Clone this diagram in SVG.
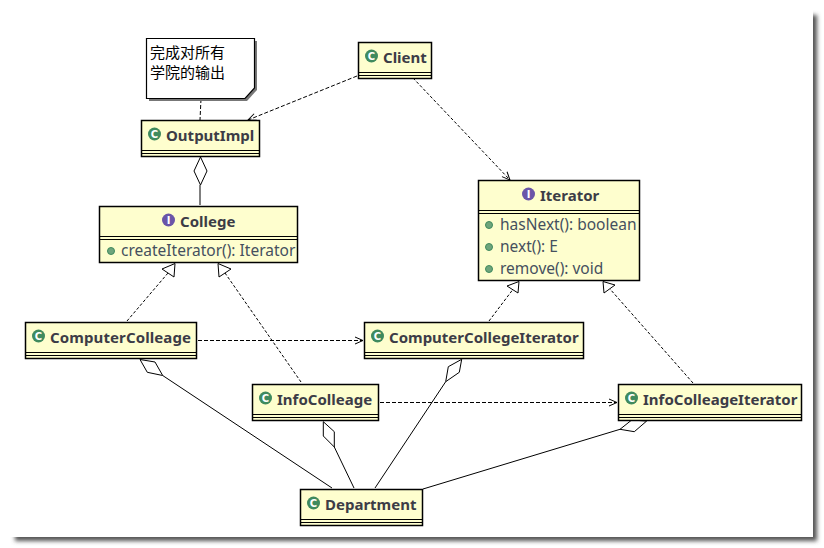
<svg xmlns="http://www.w3.org/2000/svg" width="824" height="548" viewBox="0 0 824 548">
<style>
.box{fill:#fefece;stroke:#000;stroke-width:1.5}
.sep{stroke:#000;stroke-width:1.2;fill:none}
.t{font:bold 15px "Noto Sans","Open Sans",sans-serif;fill:#3c3c46}
.m{font:15.500px "Noto Sans","Open Sans",sans-serif;fill:#45505e}
.n{font:15px "Noto Sans CJK SC",sans-serif;fill:#000}
.ic{font:bold 10px "DejaVu Sans",sans-serif;fill:#fff;text-anchor:middle}
.cg{fill:#3f8a5e}
.ci{fill:#6a55a8}
.dot{fill:#6ea57c;stroke:#3f8a5e}
.l{fill:none;stroke:#000;stroke-width:1}
.d{stroke-dasharray:4 2}
.o{stroke-dasharray:3 2}
.h{fill:#fff;stroke:#000;stroke-width:1;stroke-linejoin:miter}
</style>
<defs>
<filter id="sh" x="-3%" y="-3%" width="106%" height="106%"><feGaussianBlur stdDeviation="2"/></filter>
<marker id="op" markerWidth="12" markerHeight="12" refX="10" refY="5" orient="auto" markerUnits="userSpaceOnUse"><path d="M2 1.500 L10 5 L2 8.500" fill="none" stroke="#000"/></marker>
</defs>
<rect width="824" height="548" fill="#fff"/>
<rect x="15" y="15" width="802" height="526" fill="#555" filter="url(#sh)"/>
<rect x="10" y="10" width="803" height="527" fill="#fff"/>

<g id="connectors">
<path class="l d" d="M201 99 L200 120"/>
<path class="l d" d="M357 76 L248 120" marker-end="url(#op)"/>
<path class="l o" d="M413 78 L510 180" marker-end="url(#op)"/>
<path class="h" d="M200.500 157 L207 171 L200.500 185 L194 171Z"/>
<path class="l" d="M200 185 L200 205"/>
<path class="l o" d="M127 321 L168 273"/>
<path class="h" d="M175 263.500 L174 277 L162 269Z"/>
<path class="l o" d="M301 382 L225 273"/>
<path class="h" d="M218 263.500 L231 269 L219 277Z"/>
<path class="l o" d="M489 321 L512.500 290"/>
<path class="h" d="M519 281.500 L518 293 L507 286Z"/>
<path class="l o" d="M693 383 L610 289"/>
<path class="h" d="M603 281.500 L615 285 L604 293Z"/>
<path class="l d" d="M198 340.500 L363 340.500" marker-end="url(#op)"/>
<path class="l d" d="M380 402.500 L617 402.500" marker-end="url(#op)"/>
<path class="h" d="M140 359.500 L155 362 L162.700 375.500 L147.300 372.300Z"/>
<path class="l" d="M162.700 375.500 L332 488"/>
<path class="h" d="M323.300 421.700 L334.300 431.700 L334.300 447 L323.300 436Z"/>
<path class="l" d="M334.300 447 L354 488"/>
<path class="h" d="M461.700 359.300 L459.300 372.300 L445.700 381.700 L448.300 366.700Z"/>
<path class="l" d="M445.700 381.700 L375 488"/>
<path class="h" d="M646.700 421 L634.300 431.700 L620 429.300 L631.700 420Z"/>
<path class="l" d="M620 429.300 L423 489"/>
</g>

<g id="note">
<path d="M149 41 H257 V90 L247 101 H149Z" fill="#777"/>
<path d="M146.500 38.500 H254.500 V88 L245 98.500 H146.500Z" fill="#fff" stroke="#000" stroke-width="1.2"/>
<text class="n" x="150" y="58">完成对所有</text>
<text class="n" x="150" y="78">学院的输出</text>
</g>
<g id="Client">
<rect class="box" x="358.500" y="42.500" width="73" height="36"/>
<path class="sep" d="M358.500 72.500H431.500M358.500 75.500H431.500"/>
<circle class="cg" cx="371.500" cy="56" r="6.500"/><text class="ic" x="371.500" y="59.500">C</text>
<text class="t" x="383" y="62.500">Client</text>
</g>
<g id="OutputImpl">
<rect class="box" x="141.500" y="120.500" width="118" height="36"/>
<path class="sep" d="M141.500 150.500H259.500M141.500 153.500H259.500"/>
<circle class="cg" cx="154.500" cy="134" r="6.500"/><text class="ic" x="154.500" y="137.500">C</text>
<text class="t" x="166" y="140.500">OutputImpl</text>
</g>
<g id="College">
<rect class="box" x="99.500" y="206.500" width="198" height="56"/>
<path class="sep" d="M99.500 236.500H297.500M99.500 239.500H297.500"/>
<circle class="ci" cx="168.500" cy="220" r="6.500"/><text class="ic" x="168.500" y="223.500">I</text>
<text class="t" x="180" y="226.500">College</text>
<circle class="dot" cx="111" cy="251" r="3.500"/>
<text class="m" x="121" y="256">createIterator(): Iterator</text>
</g>
<g id="Iterator">
<rect class="box" x="478.500" y="180.500" width="161" height="100"/>
<path class="sep" d="M478.500 210.500H639.500M478.500 213.500H639.500"/>
<circle class="ci" cx="528.500" cy="194" r="6.500"/><text class="ic" x="528.500" y="197.500">I</text>
<text class="t" x="540" y="200.500">Iterator</text>
<circle class="dot" cx="489" cy="225" r="3.500"/>
<text class="m" x="500" y="230">hasNext(): boolean</text>
<circle class="dot" cx="489" cy="247" r="3.500"/>
<text class="m" x="500" y="252">next(): E</text>
<circle class="dot" cx="489" cy="269" r="3.500"/>
<text class="m" x="500" y="274">remove(): void</text>
</g>
<g id="ComputerColleage">
<rect class="box" x="25.500" y="322.500" width="171" height="36"/>
<path class="sep" d="M25.500 352.500H196.500M25.500 355.500H196.500"/>
<circle class="cg" cx="38.500" cy="336" r="6.500"/><text class="ic" x="38.500" y="339.500">C</text>
<text class="t" x="50" y="342.500" textLength="141">ComputerColleage</text>
</g>
<g id="ComputerCollegeIterator">
<rect class="box" x="364.500" y="322.500" width="219" height="36"/>
<path class="sep" d="M364.500 352.500H583.500M364.500 355.500H583.500"/>
<circle class="cg" cx="377.500" cy="336" r="6.500"/><text class="ic" x="377.500" y="339.500">C</text>
<text class="t" x="389" y="342.500">ComputerCollegeIterator</text>
</g>
<g id="InfoColleage">
<rect class="box" x="252.500" y="384.500" width="126" height="36"/>
<path class="sep" d="M252.500 414.500H378.500M252.500 417.500H378.500"/>
<circle class="cg" cx="265.500" cy="398" r="6.500"/><text class="ic" x="265.500" y="401.500">C</text>
<text class="t" x="277" y="404.500">InfoColleage</text>
</g>
<g id="InfoColleageIterator">
<rect class="box" x="618.500" y="384.500" width="183" height="36"/>
<path class="sep" d="M618.500 414.500H801.500M618.500 417.500H801.500"/>
<circle class="cg" cx="631.500" cy="398" r="6.500"/><text class="ic" x="631.500" y="401.500">C</text>
<text class="t" x="643" y="404.500">InfoColleageIterator</text>
</g>
<g id="Department">
<rect class="box" x="300.500" y="489.500" width="122" height="36"/>
<path class="sep" d="M300.500 519.500H422.500M300.500 522.500H422.500"/>
<circle class="cg" cx="313.500" cy="503" r="6.500"/><text class="ic" x="313.500" y="506.500">C</text>
<text class="t" x="325" y="509.500">Department</text>
</g>
</svg>
